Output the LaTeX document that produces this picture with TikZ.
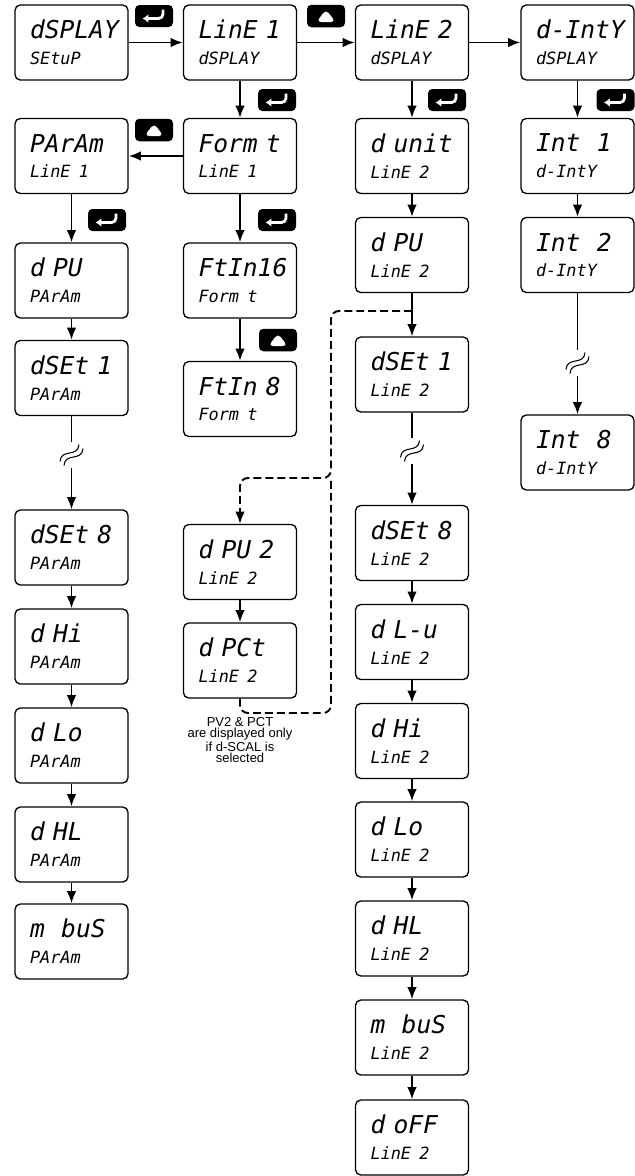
\documentclass[tikz,border=0pt]{standalone}
\usepackage{fontspec}
\usetikzlibrary{arrows.meta,positioning}
\newfontfamily\lcdfont{DejaVu Sans Mono}
\newfontfamily\notefont{Liberation Sans}
\newcommand\lcdbig{\lcdfont\itshape\fontsize{14pt}{14.7pt}\selectfont}
\newcommand\lcdsmall{\lcdfont\itshape\fontsize{9.6pt}{14.7pt}\selectfont}
\newcommand\menutext[2]{\mbox{#1}\\{\lcdsmall\mbox{#2}}}

\begin{document}
\begin{tikzpicture}[
    menu/.style={draw, line width=0.75pt, rounded corners=3pt, minimum width=2.26cm, minimum height=1.5cm, text width=1.66cm, inner xsep=0pt, align=left, font=\lcdbig},
    enterkey/.style={fill=black, rounded corners=2.5pt, minimum width=0.76cm, minimum height=0.44cm, inner sep=0pt,
        path picture={\draw[white, line width=1.6pt, line join=round, -{Latex[length=3.4pt,width=5pt]}]
            ([xshift=-0.2cm, yshift=-0.09cm]path picture bounding box.north east)
            -- ([xshift=-0.2cm, yshift=-0.27cm]path picture bounding box.north east)
            -- ([xshift=0.15cm, yshift=-0.27cm]path picture bounding box.north west);}},
    upkey/.style={fill=black, rounded corners=2.5pt, minimum width=0.76cm, minimum height=0.45cm, inner sep=0pt,
        path picture={\fill[white]
            ([shift={(-0.19,-0.12)}]path picture bounding box.center)
            -- ([shift={(0.19,-0.12)}]path picture bounding box.center)
            -- ([shift={(0,0.13)}]path picture bounding box.center) -- cycle;}},
    arr/.style={-{Latex[length=7pt,width=5.5pt]}, line width=1.1pt},
    link/.style={line width=1.1pt},
    optpath/.style={line width=1.1pt, dash pattern=on 4.5pt off 2.3pt, rounded corners=4.5pt},
    brk/.style={inner sep=0pt, minimum width=0.56cm, minimum height=0.52cm,
        path picture={
            \foreach \s in {-1,1}
                \draw[line width=0.6pt]
                    ([shift={(-0.19-0.04*\s,-0.17+0.04*\s)}]path picture bounding box.center)
                    .. controls ([shift={(-0.17-0.04*\s,0.10+0.04*\s)}]path picture bounding box.center)
                    and ([shift={(0.17-0.04*\s,-0.10+0.04*\s)}]path picture bounding box.center)
                    .. ([shift={(0.19-0.04*\s,0.17+0.04*\s)}]path picture bounding box.center);}},
    note/.style={font=\notefont\fontsize{7.4pt}{6.4pt}\selectfont, align=center}
]
\useasboundingbox (0,0) rectangle (12.7,-23.52);

%% ---- top row ----
\node[menu] (setup)   at (1.43,-0.85)  {\menutext{dSPLAY}{SEtuP}};
\node[menu] (lineone) at (4.80,-0.85)  {\menutext{LinE~1}{dSPLAY}};
\node[menu] (linetwo) at (8.24,-0.85)  {\menutext{LinE~2}{dSPLAY}};
\node[menu] (inty)    at (11.55,-0.85) {\menutext{d-IntY}{dSPLAY}};

%% ---- keys ----
\node[enterkey] (enterA) at (3.08,-0.32) {};
\node[upkey]    (upA)    at (6.52,-0.32) {};
\node[enterkey] (enterB) at (5.54,-2.00) {};
\node[enterkey] (enterC) at (8.94,-2.00) {};
\node[enterkey] (enterD) at (12.31,-2.00) {};
\node[upkey]    (upB)    at (3.08,-2.60) {};
\node[enterkey] (enterE) at (2.14,-4.40) {};
\node[enterkey] (enterF) at (5.54,-4.40) {};
\node[upkey]    (upC)    at (5.56,-6.80) {};

%% ---- line 1 : parameters ----
\node[menu] (param)  at (1.43,-3.12)  {\menutext{PArAm}{LinE~1}};
\node[menu] (pdpu)   at (1.43,-5.61)  {\menutext{d~PU}{PArAm}};
\node[menu] (pdset1) at (1.43,-7.56)  {\menutext{dSEt~1}{PArAm}};
\node[brk]  (pbrk)   at (1.43,-9.10)  {};
\node[menu] (pdset8) at (1.43,-10.95) {\menutext{dSEt~8}{PArAm}};
\node[menu] (pdhi)   at (1.43,-12.93) {\menutext{d~Hi}{PArAm}};
\node[menu] (pdlo)   at (1.43,-14.91) {\menutext{d~Lo}{PArAm}};
\node[menu] (pdhl)   at (1.43,-16.89) {\menutext{d~HL}{PArAm}};
\node[menu] (pmbus)  at (1.43,-18.83) {\menutext{m~~buS}{PArAm}};

%% ---- line 1 : format ----
\node[menu] (format)  at (4.80,-3.12)  {\menutext{Form~t}{LinE~1}};
\node[menu] (ftsix)   at (4.80,-5.61)  {\menutext{FtIn16}{Form~t}};
\node[menu] (fteight) at (4.80,-7.98)  {\menutext{FtIn~8}{Form~t}};

%% ---- line 2 : optional PV2 / PCT ----
\node[menu] (dpvtwo) at (4.80,-11.24) {\menutext{d~PU~2}{LinE~2}};
\node[menu] (dpct)   at (4.80,-13.21) {\menutext{d~PCt}{LinE~2}};
\node[note] (pvnote) at (4.80,-14.80) {PV2 \& PCT\\are displayed only\\if d-SCAL is\\selected};

%% ---- line 2 ----
\node[menu] (unit)  at (8.24,-3.12)  {\menutext{d~unit}{LinE~2}};
\node[menu] (dpv)   at (8.24,-5.10)  {\menutext{d~PU}{LinE~2}};
\node[menu] (dset1) at (8.24,-7.49)  {\menutext{dSEt~1}{LinE~2}};
\node[brk]  (lbrk)  at (8.24,-9.02)  {};
\node[menu] (dset8) at (8.24,-10.86) {\menutext{dSEt~8}{LinE~2}};
\node[menu] (dlu)   at (8.24,-12.84) {\menutext{d~L-u}{LinE~2}};
\node[menu] (dhi)   at (8.24,-14.82) {\menutext{d~Hi}{LinE~2}};
\node[menu] (dlo)   at (8.24,-16.79) {\menutext{d~Lo}{LinE~2}};
\node[menu] (dhl)   at (8.24,-18.77) {\menutext{d~HL}{LinE~2}};
\node[menu] (mbus)  at (8.24,-20.75) {\menutext{m~~buS}{LinE~2}};
\node[menu] (doff)  at (8.24,-22.75) {\menutext{d~oFF}{LinE~2}};

%% ---- intensity ----
\node[menu] (intone)   at (11.55,-3.12) {\menutext{Int~~1}{d-IntY}};
\node[menu] (inttwo)   at (11.55,-5.10) {\menutext{Int~~2}{d-IntY}};
\node[brk]  (ibrk)     at (11.55,-7.26) {};
\node[menu] (inteight) at (11.55,-9.05) {\menutext{Int~~8}{d-IntY}};

%% ---- arrows ----
\draw[arr] (setup)   -- (lineone);
\draw[arr] (lineone) -- (linetwo);
\draw[arr] (linetwo) -- (inty);

\draw[arr] (lineone) -- (format);
\draw[arr] (format)  -- (param);
\draw[arr] (format)  -- (ftsix);
\draw[arr] (ftsix)   -- (fteight);

\draw[arr]  (param)  -- (pdpu);
\draw[arr]  (pdpu)   -- (pdset1);
\draw[link] (pdset1) -- (pbrk);
\draw[arr]  (pbrk)   -- (pdset8);
\draw[arr]  (pdset8) -- (pdhi);
\draw[arr]  (pdhi)   -- (pdlo);
\draw[arr]  (pdlo)   -- (pdhl);
\draw[arr]  (pdhl)   -- (pmbus);

\draw[arr]  (linetwo) -- (unit);
\draw[arr]  (unit)    -- (dpv);
\draw[arr]  (dpv)     -- (dset1);
\draw[link] (dset1)   -- (lbrk);
\draw[arr]  (lbrk)    -- (dset8);
\draw[arr]  (dset8)   -- (dlu);
\draw[arr]  (dlu)     -- (dhi);
\draw[arr]  (dhi)     -- (dlo);
\draw[arr]  (dlo)     -- (dhl);
\draw[arr]  (dhl)     -- (mbus);
\draw[arr]  (mbus)    -- (doff);

\draw[arr]  (inty)   -- (intone);
\draw[arr]  (intone) -- (inttwo);
\draw[link] (inttwo) -- (ibrk);
\draw[arr]  (ibrk)   -- (inteight);

\draw[arr] (dpvtwo) -- (dpct);

%% ---- dashed bypass ----
\coordinate (split) at (8.24,-6.22);
\draw[optpath, -{Latex[length=7pt,width=5.5pt]}] (split) -- (6.62,-6.22) -- (6.62,-9.56) -- (4.80,-9.56) -- (dpvtwo);
\draw[optpath] (dpct) -- (4.80,-14.26) -- (6.62,-14.26) -- (6.62,-9.56);

\end{tikzpicture}
\end{document}
